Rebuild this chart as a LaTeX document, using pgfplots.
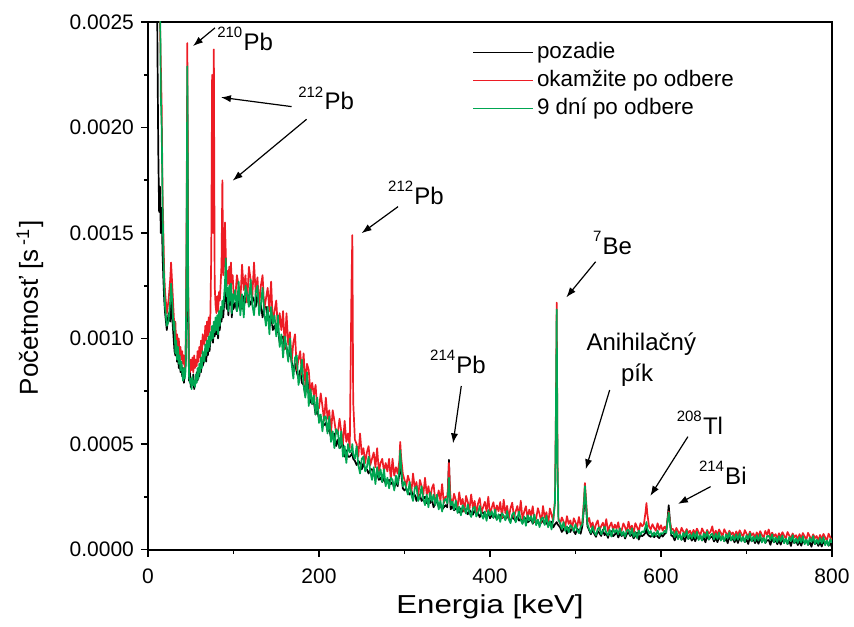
\documentclass[border=0pt]{standalone}
\usepackage{fontspec}
\setmainfont{Liberation Sans}
\newfontfamily\widefont{Liberation Sans}[FakeStretch=1.2]
\usepackage{pgfplots}
\usepackage{pgfplotstable}
\pgfplotsset{compat=1.18}
\usetikzlibrary{arrows.meta}
\definecolor{pred}{HTML}{ED1C24}
\definecolor{pgreen}{HTML}{00A651}
\newcommand{\iso}[2]{\raisebox{6.3pt}{\fontsize{7.5}{8}\selectfont #1}\kern0.6pt#2}
\pgfplotstableread{
E K R G
6 0.0042 0.0043 0.0044
8 0.0040 0.0044 0.0045
10 0.0033 0.0042 0.0043
11 0.0024 0.0038 0.0040
12 0.0019 0.0033 0.0034
13 0.0016 0.0028 0.0030
14 0.00172 0.0025 0.0027
15 0.0015 0.0023 0.00215
16 0.00162 0.0021 0.0020
17 0.0014 0.0017 0.00165
18 0.00128 0.0015 0.0014
19 0.00118 0.0013 0.00125
20 0.00112 0.00122 0.00115
22 0.00104 0.00112 0.00106
24 0.00112 0.00118 0.00108
26 0.00108 0.00128 0.00118
27 0.00118 0.00136 0.00126
28 0.00112 0.00128 0.00120
30 0.00100 0.00112 0.00104
31 0.00094 0.00104 0.00108
32 0.00092 0.00108 0.00093
33 0.00097 0.00096 0.00099
34 0.00089 0.00102 0.00090
35 0.00093 0.00095 0.00096
36 0.00086 0.00100 0.00088
37 0.00090 0.00092 0.00092
38 0.00084 0.00096 0.00085
39 0.00088 0.00090 0.00089
40 0.00082 0.00094 0.00084
41 0.00086 0.00088 0.00080
42 0.00079 0.00092 0.00086
43 0.00084 0.00086 0.00081
44 0.00088 0.00090 0.00085
45 0.00120 0.00140 0.00130
46 0.00215 0.00240 0.00229
47 0.00110 0.00130 0.00120
48 0.00080 0.00088 0.00082
49 0.00084 0.00084 0.00079
50 0.00077 0.00090 0.00081
51 0.00081 0.00085 0.00076
52 0.00078 0.00091 0.00082
53 0.00083 0.00084 0.00078
54 0.00076 0.00092 0.00080
55 0.00080 0.00086 0.00077
56 0.00079 0.00090 0.00083
57 0.00084 0.00087 0.00079
58 0.00080 0.00094 0.00086
59 0.00085 0.00089 0.00081
60 0.00082 0.00096 0.00088
61 0.00087 0.00091 0.00084
62 0.00084 0.00099 0.00091
63 0.00089 0.00093 0.00086
64 0.00087 0.00102 0.00094
66 0.00090 0.00097 0.00089
67 0.00093 0.00106 0.00097
68 0.00089 0.00099 0.00092
69 0.00095 0.00108 0.00099
70 0.00092 0.00101 0.00094
71 0.00097 0.00110 0.00101
72 0.00094 0.00103 0.00096
73 0.00099 0.00112 0.00103
74 0.00100 0.00140 0.00099
75 0.00102 0.00225 0.00106
76 0.00098 0.00150 0.00100
77 0.00104 0.00237 0.00108
78 0.00101 0.00125 0.00103
79 0.00107 0.00116 0.00110
80 0.00102 0.00112 0.00104
81 0.00108 0.00120 0.00111
82 0.00100 0.00113 0.00102
83 0.00110 0.00122 0.00113
84 0.00104 0.00118 0.00106
85 0.00112 0.00126 0.00115
86 0.00108 0.00135 0.00110
87 0.00114 0.00175 0.00118
88 0.00110 0.00130 0.00114
89 0.00116 0.00135 0.00120
90 0.00120 0.00155 0.00126
91 0.00124 0.00140 0.00138
92 0.00114 0.00125 0.00120
93 0.00119 0.00132 0.00124
94 0.00111 0.00126 0.00113
95 0.00120 0.00134 0.00125
96 0.00116 0.00122 0.00118
97 0.00121 0.00136 0.00126
98 0.00110 0.00126 0.00112
99 0.00117 0.00130 0.00121
100 0.00114 0.00122 0.00117
102 0.00117 0.00119 0.00123
104 0.00113 0.00130 0.00113
106 0.00117 0.00125 0.00127
108 0.00120 0.00117 0.00111
110 0.00114 0.00135 0.00121
112 0.00120 0.00123 0.00110
114 0.00117 0.00130 0.00125
116 0.00122 0.00117 0.00121
118 0.00118 0.00134 0.00115
120 0.00116 0.00128 0.00128
122 0.00120 0.00120 0.00116
124 0.00118 0.00136 0.00111
126 0.00115 0.00121 0.00122
128 0.00121 0.00129 0.00125
130 0.00115 0.00115 0.00111
132 0.00116 0.00125 0.00116
134 0.00110 0.00130 0.00124
136 0.00115 0.00114 0.00112
138 0.00115 0.00119 0.00106
140 0.00109 0.00124 0.00115
142 0.00110 0.00113 0.00102
144 0.00111 0.00127 0.00115
146 0.00104 0.00107 0.00107
148 0.00106 0.00113 0.00111
150 0.00103 0.00118 0.00101
152 0.00104 0.00104 0.00111
154 0.00098 0.00112 0.00096
156 0.00100 0.00104 0.00102
158 0.00101 0.00113 0.00091
160 0.00095 0.00095 0.00101
162 0.00096 0.00112 0.00096
164 0.00091 0.00097 0.00089
166 0.00094 0.00103 0.00100
168 0.00089 0.00089 0.00088
170 0.00085 0.00098 0.00081
172 0.00088 0.00102 0.00091
174 0.00084 0.00085 0.00092
176 0.00081 0.00090 0.00078
178 0.00085 0.00094 0.00082
180 0.00079 0.00083 0.00090
182 0.00078 0.00093 0.00078
184 0.00073 0.00078 0.00072
186 0.00082 0.00088 0.00084
188 0.00075 0.00085 0.00068
190 0.00070 0.00074 0.00076
192 0.00069 0.00079 0.00069
194 0.00070 0.00073 0.00073
196 0.00064 0.00078 0.00064
198 0.00066 0.00066 0.00072
200 0.00062 0.00067 0.00060
202 0.00063 0.00074 0.00064
204 0.00059 0.00068 0.00056
206 0.00059 0.00061 0.00063
208 0.00060 0.00072 0.00063
210 0.00056 0.00062 0.00055
212 0.00057 0.00066 0.00063
214 0.00053 0.00055 0.00051
216 0.00054 0.00066 0.00056
218 0.00055 0.00061 0.00048
220 0.00049 0.00055 0.00057
222 0.00052 0.00055 0.00056
224 0.00048 0.00062 0.00048
226 0.00049 0.00056 0.00056
228 0.00050 0.00050 0.00044
230 0.00044 0.00061 0.00049
232 0.00047 0.00051 0.00041
234 0.00044 0.00055 0.00050
236 0.00044 0.00048 0.00046
238 0.00045 0.00125 0.00047
239 0.00046 0.00149 0.00050
240 0.00043 0.00070 0.00045
242 0.00042 0.00052 0.00043
244 0.00040 0.00050 0.00049
246 0.00042 0.00044 0.00040
248 0.00041 0.00055 0.00036
250 0.00038 0.00045 0.00043
252 0.00041 0.00048 0.00044
254 0.00038 0.00041 0.00037
256 0.00038 0.00046 0.00039
258 0.00036 0.00049 0.00044
260 0.00038 0.00040 0.00037
262 0.00038 0.00043 0.00033
264 0.00035 0.00046 0.00039
266 0.00035 0.00039 0.00031
268 0.00036 0.00048 0.00039
270 0.00033 0.00037 0.00034
272 0.00034 0.00041 0.00038
274 0.00032 0.00043 0.00032
276 0.00034 0.00037 0.00038
278 0.00031 0.00041 0.00030
280 0.00032 0.00037 0.00034
282 0.00033 0.00043 0.00029
284 0.00031 0.00033 0.00034
286 0.00032 0.00043 0.00033
288 0.00029 0.00035 0.00028
290 0.00032 0.00039 0.00035
292 0.00030 0.00036 0.00031
294 0.00036 0.00042 0.00038
295 0.00045 0.00051 0.00047
296 0.00037 0.00044 0.00040
298 0.00029 0.00036 0.00030
300 0.00028 0.00033 0.00032
302 0.00029 0.00030 0.00029
304 0.00027 0.00035 0.00026
306 0.00026 0.00032 0.00032
308 0.00028 0.00027 0.00026
310 0.00025 0.00036 0.00023
312 0.00026 0.00029 0.00029
314 0.00023 0.00032 0.00030
316 0.00026 0.00025 0.00023
318 0.00026 0.00033 0.00025
320 0.00023 0.00030 0.00030
322 0.00024 0.00026 0.00024
324 0.00025 0.00034 0.00021
326 0.00022 0.00026 0.00026
328 0.00024 0.00030 0.00020
330 0.00022 0.00024 0.00027
332 0.00024 0.00029 0.00023
334 0.00020 0.00031 0.00026
336 0.00022 0.00023 0.00021
338 0.00023 0.00024 0.00026
340 0.00020 0.00028 0.00019
342 0.00021 0.00023 0.00023
344 0.00019 0.00031 0.00018
346 0.00020 0.00022 0.00023
348 0.00021 0.00025 0.00024
350 0.00020 0.00025 0.00022
351 0.00030 0.00030 0.00027
352 0.000425 0.00041 0.00034
353 0.00028 0.00030 0.00026
354 0.00019 0.00024 0.00021
356 0.000205 0.000217 0.000227
358 0.000186 0.000264 0.000189
360 0.000193 0.000234 0.000232
362 0.000203 0.000196 0.000173
364 0.000175 0.000271 0.000203
366 0.000195 0.000214 0.000162
368 0.000179 0.000240 0.000210
370 0.000197 0.000179 0.000194
372 0.000179 0.000254 0.000170
374 0.000167 0.000225 0.000214
376 0.000187 0.000191 0.000173
378 0.000177 0.000261 0.000154
380 0.000165 0.000196 0.000194
382 0.000187 0.000230 0.000203
384 0.000166 0.000170 0.000156
386 0.000172 0.000218 0.000175
388 0.000153 0.000244 0.000206
390 0.000173 0.000174 0.000165
392 0.000176 0.000201 0.000146
394 0.000156 0.000226 0.000180
396 0.000161 0.000180 0.000136
398 0.000173 0.000250 0.000187
400 0.000148 0.000163 0.000161
402 0.000163 0.000198 0.000182
404 0.000152 0.000224 0.000149
406 0.000165 0.000169 0.000190
408 0.000142 0.000209 0.000140
410 0.000157 0.000181 0.000167
412 0.000164 0.000225 0.000131
414 0.000149 0.000151 0.000172
416 0.000158 0.000236 0.000161
418 0.000143 0.000172 0.000138
420 0.000162 0.000207 0.000183
422 0.000145 0.000147 0.000143
424 0.000134 0.000196 0.000125
426 0.000155 0.000222 0.000166
428 0.000146 0.000153 0.000176
430 0.000135 0.000180 0.000129
432 0.000158 0.000206 0.000149
434 0.000137 0.000160 0.000180
436 0.000144 0.000231 0.000140
438 0.000125 0.000144 0.000121
440 0.000146 0.000179 0.000156
442 0.000149 0.000205 0.000112
444 0.000129 0.000149 0.000163
446 0.000134 0.000189 0.000137
448 0.000147 0.000160 0.000158
450 0.000122 0.000205 0.000125
452 0.000137 0.000131 0.000166
454 0.000125 0.000147 0.000115
456 0.000138 0.000196 0.000142
458 0.000115 0.000168 0.000106
460 0.000129 0.000130 0.000146
462 0.000136 0.000206 0.000152
464 0.000121 0.000150 0.000116
466 0.000128 0.000177 0.000161
468 0.000112 0.000118 0.000105
470 0.000121 0.000194 0.000135
472 0.000132 0.000166 0.000095
474 0.000105 0.000133 0.000144
476 0.000120 0.00024 0.00022
477 0.000125 0.00062 0.00060
478 0.000130 0.00117 0.001138
479 0.000120 0.00042 0.00040
480 0.000115 0.00015 0.00014
482 0.000105 0.000121 0.000125
484 0.000083 0.000152 0.000098
486 0.000095 0.000133 0.000130
488 0.000109 0.000108 0.000088
490 0.000075 0.000158 0.000110
492 0.000102 0.000121 0.000081
494 0.000083 0.000138 0.000116
496 0.000107 0.000098 0.000105
498 0.000086 0.000148 0.000088
500 0.000073 0.000129 0.000120
502 0.000099 0.000107 0.000091
504 0.000088 0.000154 0.000078
506 0.000075 0.000111 0.000107
508 0.00011 0.00013 0.00012
510 0.00020 0.00024 0.00022
511 0.00028 0.000315 0.00030
512 0.00022 0.00026 0.00024
514 0.00011 0.00013 0.00012
516 0.000091 0.000149 0.000096
518 0.000072 0.000106 0.000079
520 0.000095 0.000128 0.000110
522 0.000074 0.000088 0.000081
524 0.000060 0.000120 0.000068
526 0.000088 0.000138 0.000098
528 0.000077 0.000092 0.000105
530 0.000064 0.000110 0.000072
532 0.000094 0.000127 0.000086
534 0.000068 0.000097 0.000109
536 0.000078 0.000144 0.000080
538 0.000055 0.000087 0.000067
540 0.000083 0.000111 0.000093
542 0.000087 0.000128 0.000061
544 0.000063 0.000091 0.000098
546 0.000070 0.000118 0.000080
548 0.000087 0.000099 0.000095
550 0.000057 0.000129 0.000072
552 0.000076 0.000080 0.000101
554 0.000063 0.000092 0.000066
556 0.000080 0.000124 0.000085
558 0.000052 0.000106 0.000060
560 0.000073 0.000082 0.000090
562 0.000082 0.000132 0.000094
564 0.000064 0.000096 0.000069
566 0.000073 0.000113 0.000101
568 0.000053 0.000074 0.000060
570 0.000065 0.000125 0.000083
572 0.000080 0.000106 0.000054
574 0.000047 0.000085 0.000090
576 0.000070 0.000125 0.000070
578 0.000063 0.000110 0.000086
580 0.000070 0.000120 0.000082
582 0.000080 0.000180 0.000110
583 0.000100 0.000220 0.000130
584 0.000075 0.000170 0.000100
586 0.000065 0.000110 0.000075
588 0.000060 0.000096 0.000088
590 0.000075 0.000120 0.000062
592 0.000058 0.000102 0.000081
594 0.000069 0.000089 0.000065
596 0.000062 0.000124 0.000090
598 0.000054 0.000094 0.000064
600 0.000072 0.000115 0.000078
602 0.000061 0.000090 0.000074
604 0.000073 0.000108 0.000088
606 0.000080 0.000095 0.000080
608 0.000160 0.000150 0.000140
609 0.000210 0.000180 0.000175
610 0.000160 0.000145 0.000140
612 0.000066 0.000098 0.000075
614 0.000063 0.000097 0.000083
616 0.000043 0.000078 0.000058
618 0.000067 0.000102 0.000087
620 0.000054 0.000086 0.000049
622 0.000070 0.000071 0.000072
624 0.000046 0.000103 0.000046
626 0.000059 0.000086 0.000079
628 0.000038 0.000074 0.000061
630 0.000071 0.000097 0.000089
632 0.000050 0.000078 0.000050
634 0.000063 0.000089 0.000073
636 0.000042 0.000067 0.000052
638 0.000059 0.000093 0.000079
640 0.000039 0.000074 0.000054
642 0.000064 0.000099 0.000084
644 0.000050 0.000082 0.000045
646 0.000066 0.000067 0.000068
648 0.000043 0.000100 0.000043
650 0.000056 0.000083 0.000076
652 0.000034 0.000070 0.000057
654 0.000067 0.000093 0.000085
656 0.000047 0.000075 0.000047
658 0.000059 0.000085 0.000069
660 0.000060 0.000110 0.000075
662 0.000038 0.000063 0.000048
664 0.000055 0.000089 0.000075
666 0.000035 0.000070 0.000050
668 0.000060 0.000095 0.000080
670 0.000047 0.000079 0.000042
672 0.000062 0.000063 0.000064
674 0.000039 0.000096 0.000039
676 0.000052 0.000079 0.000072
678 0.000030 0.000066 0.000053
680 0.000063 0.000089 0.000081
682 0.000043 0.000071 0.000043
684 0.000055 0.000081 0.000065
686 0.000034 0.000059 0.000044
688 0.000052 0.000086 0.000072
690 0.000031 0.000066 0.000046
692 0.000056 0.000091 0.000076
694 0.000043 0.000075 0.000038
696 0.000058 0.000059 0.000060
698 0.000035 0.000092 0.000035
700 0.000048 0.000075 0.000068
702 0.000026 0.000062 0.000049
704 0.000059 0.000085 0.000077
706 0.000039 0.000067 0.000039
708 0.000051 0.000077 0.000061
710 0.000030 0.000055 0.000040
712 0.000047 0.000081 0.000067
714 0.000027 0.000062 0.000042
716 0.000052 0.000087 0.000072
718 0.000038 0.000070 0.000033
720 0.000054 0.000055 0.000056
722 0.000031 0.000088 0.000031
724 0.000043 0.000070 0.000063
726 0.000045 0.000095 0.000065
728 0.000022 0.000058 0.000045
730 0.000054 0.000080 0.000072
732 0.000034 0.000062 0.000034
734 0.000047 0.000073 0.000057
736 0.000025 0.000050 0.000035
738 0.000043 0.000077 0.000063
740 0.000023 0.000058 0.000038
742 0.000047 0.000082 0.000067
744 0.000034 0.000066 0.000029
746 0.000050 0.000051 0.000052
748 0.000026 0.000083 0.000026
750 0.000039 0.000066 0.000059
752 0.000017 0.000053 0.000040
754 0.000050 0.000076 0.000068
756 0.000030 0.000058 0.000030
758 0.000042 0.000068 0.000052
760 0.000021 0.000046 0.000031
762 0.000039 0.000073 0.000059
764 0.000018 0.000053 0.000033
766 0.000043 0.000078 0.000063
768 0.000030 0.000062 0.000025
770 0.000045 0.000046 0.000047
772 0.000022 0.000079 0.000022
774 0.000035 0.000062 0.000055
776 0.000013 0.000049 0.000036
778 0.000046 0.000072 0.000064
780 0.000026 0.000054 0.000026
782 0.000038 0.000064 0.000048
784 0.000017 0.000042 0.000027
786 0.000035 0.000069 0.000055
788 0.000014 0.000049 0.000029
790 0.000039 0.000074 0.000059
792 0.000025 0.000057 0.000020
794 0.000041 0.000042 0.000043
796 0.000018 0.000075 0.000018
798 0.000030 0.000057 0.000050
800 0.000009 0.000045 0.000032
}\spectrum
\begin{document}
\begin{tikzpicture}
\begin{axis}[
  scale only axis, width=342pt, height=263.75pt,
  xmin=0, xmax=800, ymin=0, ymax=0.0025,
  xtick={0,200,400,600,800}, minor x tick num=1,
  ytick={0,0.0005,0.001,0.0015,0.002,0.0025}, minor y tick num=1,
  scaled y ticks=false,
  yticklabel style={/pgf/number format/.cd, fixed, fixed zerofill, precision=4},
  xticklabel style={yshift=-2.5pt},
  /pgf/number format/assume math mode=true,
  tick align=outside, tick pos=left,
  major tick length=3.5pt, minor tick length=2pt,
  tick style={line width=0.8pt, black},
  axis line style={line width=1pt},
  tick label style={font=\fontsize{10.5}{12}\selectfont},
  xlabel={Energia [keV]},
  ylabel={Početnosť [s\,\textsuperscript{-1}]},
  every axis x label/.style={at={(axis description cs:0.5,-0.109)}, anchor=center, font=\widefont\fontsize{13}{15}\selectfont},
  every axis y label/.style={at={(axis description cs:-0.1725,0.458)}, rotate=90, anchor=center, font=\fontsize{13}{15}\selectfont},
  clip mode=individual,
  legend style={at={(axis description cs:0.4737,0.968)}, anchor=north west, draw=none, fill=none,
    font=\fontsize{11.2}{13}\selectfont, inner sep=0pt, row sep=0.6pt,
    nodes={inner sep=1.5pt, text height=8pt, text depth=2.4pt}},
  legend cell align=left,
  legend image code/.code={\draw[#1, line width=0.8pt] (0pt,0pt) -- (30pt,0pt);},
]
\addplot[black, line width=0.85pt, line join=round] table[x=E, y=K] {\spectrum};
\addlegendentry{pozadie}
\addplot[pred, line width=0.85pt, line join=round] table[x=E, y=R] {\spectrum};
\addlegendentry{okamžite po odbere}
\addplot[pgreen, line width=0.85pt, line join=round] table[x=E, y=G] {\spectrum};
\addlegendentry{9 dní po odbere}

\begin{scope}[every node/.style={inner sep=0pt, font=\fontsize{12}{14}\selectfont},
  arr/.style={-{Latex[length=5pt,width=3.6pt]}, line width=0.6pt, black}]
\node[anchor=base west] at (axis cs:80.6,0.002367) {\iso{210}{Pb}};
\draw[arr] (axis cs:78.3,0.002472) -- (axis cs:52.6,0.002386);
\node[anchor=base west] at (axis cs:175.3,0.002083) {\iso{212}{Pb}};
\draw[arr] (axis cs:168,0.002099) -- (axis cs:85.3,0.002143);
\draw[arr] (axis cs:185.5,0.002039) -- (axis cs:99,0.001748);
\node[anchor=base west] at (axis cs:280.5,0.001636) {\iso{212}{Pb}};
\draw[arr] (axis cs:292.5,0.001625) -- (axis cs:249.8,0.001499);
\node[anchor=base west] at (axis cs:329.6,0.000835) {\iso{214}{Pb}};
\draw[arr] (axis cs:366.4,0.000775) -- (axis cs:356.8,0.000503);
\node[anchor=base west] at (axis cs:520,0.001399) {\iso{7}{Be}};
\draw[arr] (axis cs:523.6,0.001364) -- (axis cs:489.3,0.001195);
\node[anchor=base] at (axis cs:577,0.000945) {Anihilačný};
\node[anchor=base] at (axis cs:572,0.000795) {pík};
\draw[arr] (axis cs:540,0.000756) -- (axis cs:511.9,0.00038);
\node[anchor=base west] at (axis cs:618,0.000547) {\iso{208}{Tl}};
\draw[arr] (axis cs:631.5,0.000535) -- (axis cs:587.5,0.000254);
\node[anchor=base west] at (axis cs:644,0.00031) {\iso{214}{Bi}};
\draw[arr] (axis cs:658,0.000298) -- (axis cs:619.8,0.000216);
\end{scope}
\end{axis}
\pgfresetboundingbox
\path[use as bounding box] ([shift={(-74pt,-38.25pt)}]current axis.south west) rectangle ([shift={(11pt,11pt)}]current axis.north east);
\end{tikzpicture}
\end{document}
